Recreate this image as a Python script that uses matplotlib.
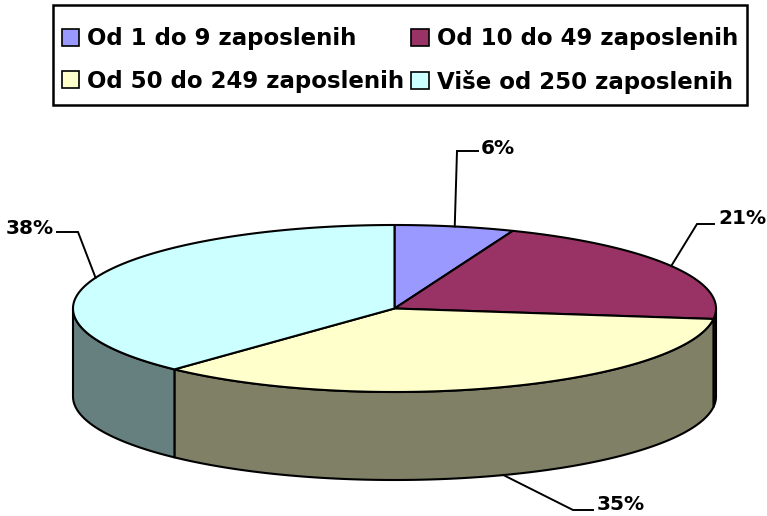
import numpy as np
import matplotlib
matplotlib.use('Agg')
import matplotlib.pyplot as plt
from matplotlib.patches import Polygon, Patch, Rectangle
from matplotlib.colors import to_rgb

categories = ["Od 1 do 9 zaposlenih", "Od 10 do 49 zaposlenih",
              "Od 50 do 249 zaposlenih", "Više od 250 zaposlenih"]
shares = [6, 21, 35, 38]
labels = ["6%", "21%", "35%", "38%"]
colors = ["#9999FF", "#993366", "#FFFFCC", "#CCFFFF"]

W, H = 767, 516
fig = plt.figure(figsize=(W / 100, H / 100), dpi=100)
ax = fig.add_axes([0, 0, 1, 1])
ax.set_xlim(0, W)
ax.set_ylim(H, 0)
ax.axis('off')

cx, cy, rx, ry, depth = 394.5, 308.5, 321.5, 83.5, 88
LW = 1.5


def pt(a_deg, dy=0.0):
    a = np.radians(a_deg)
    return cx + rx * np.cos(a), cy - ry * np.sin(a) + dy


fr = np.array(shares, dtype=float) / sum(shares)
bounds = 90 - 360 * np.concatenate([[0], np.cumsum(fr)])

# side walls (front half only)
for i in range(len(shares)):
    a1, a2 = bounds[i], bounds[i + 1]
    lo, hi = max(a2, -180), min(a1, 0)
    if hi > lo:
        t = np.linspace(hi, lo, 200)
        x, y = pt(t)
        xs = np.concatenate([x, x[::-1]])
        ys = np.concatenate([y, y[::-1] + depth])
        fc = tuple(0.5 * c for c in to_rgb(colors[i]))
        ax.add_patch(Polygon(np.column_stack([xs, ys]), closed=True, fc=fc,
                             ec='black', lw=LW, joinstyle='round'))

# top slices
for i in range(len(shares)):
    t = np.linspace(bounds[i], bounds[i + 1], 300)
    x, y = pt(t)
    xs = np.concatenate([[cx], x])
    ys = np.concatenate([[cy], y])
    ax.add_patch(Polygon(np.column_stack([xs, ys]), closed=True, fc=colors[i],
                         ec='black', lw=LW, joinstyle='round'))

# labels with leader lines
elbows = [(457, 151), (697, 224), (573, 510), (78, 232)]
ends = [(478, 151), (714, 224), (593, 510), (57, 232)]
text_pos = [(481, 148), (718, 219), (597, 504), (54, 228)]
has = ['left', 'left', 'left', 'right']
for i in range(len(shares)):
    mid = (bounds[i] + bounds[i + 1]) / 2
    ang = ((mid + 180) % 360) - 180
    dy = depth if ang < 0 else 0
    ax0, ay0 = pt(mid, dy)
    ex, ey = elbows[i]
    tx, ty = ends[i]
    ax.plot([ax0, ex, tx], [ay0, ey, ty], color='black', lw=1.4,
            solid_joinstyle='miter')
    px, py = text_pos[i]
    ax.text(px, py, labels[i], ha=has[i], va='center',
            fontsize=14.5, fontweight='bold', family='DejaVu Sans')

# legend frame
ax.add_patch(Rectangle((53, 5), 694, 100, fill=False, ec='black', lw=1.8))

order = [0, 2, 1, 3]
handles = [Patch(fc=colors[k], ec='black', lw=1.2) for k in order]
leg = fig.legend(handles, [categories[k] for k in order], ncol=2,
                 loc='center',
                 bbox_to_anchor=(400 / W, 1 - 60.5 / H), frameon=False,
                 handlelength=0.75, handleheight=0.75,
                 handletextpad=0.35, columnspacing=0.3, borderpad=0,
                 labelspacing=0.83, borderaxespad=0,
                 prop={'size': 16.5, 'weight': 'bold', 'family': 'DejaVu Sans'})

fig.savefig('out.png', dpi=100)
